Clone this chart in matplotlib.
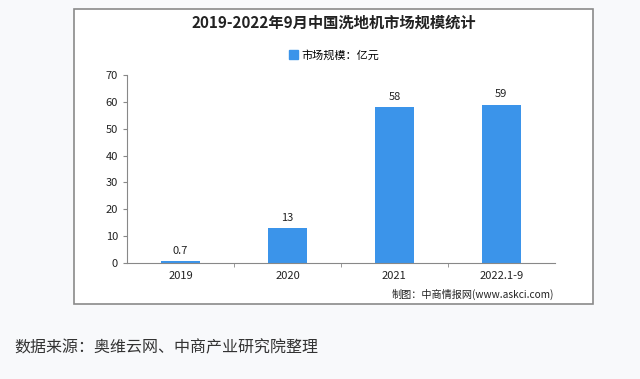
import matplotlib.pyplot as plt
from matplotlib.patches import Rectangle, Patch

plt.rcParams['font.family'] = ['Noto Sans CJK SC', 'DejaVu Sans']

years = ["2019", "2020", "2021", "2022.1-9"]
values = [0.7, 13, 58, 59]
labels = ["0.7", "13", "58", "59"]

fig = plt.figure(figsize=(6.4, 3.79), dpi=100)
fig.patch.set_facecolor('#f8f9fb')

# white chart panel with grey border
panel = Rectangle((0.1156, 0.198), 0.811, 0.778, transform=fig.transFigure,
                  facecolor='white', edgecolor='#8a8a8a', linewidth=1.2, zorder=-5)
fig.add_artist(panel)

ax = fig.add_axes([0.1984, 0.306, 0.6686, 0.496])
ax.set_zorder(2)
ax.set_facecolor('white')
x = range(len(years))
ax.bar(x, values, width=0.37, color='#3b94ea', zorder=2)
for i, v in enumerate(values):
    ax.text(i, v + 2, labels[i], ha='center', va='bottom', fontsize=8, color='#222222')

ax.set_xlim(-0.5, 3.5)
ax.set_ylim(0, 70)
ax.set_yticks(range(0, 71, 10))
ax.set_xticks(list(x))
ax.set_xticklabels(years)
ax.set_xticks([0.5, 1.5, 2.5], minor=True)
ax.tick_params(axis='y', labelsize=8, length=3, color='#888888', labelcolor='#222222')
ax.tick_params(axis='x', which='major', labelsize=8, length=0, pad=6, labelcolor='#222222')
ax.tick_params(axis='x', which='minor', length=3, color='#888888')
for s in ['top', 'right']:
    ax.spines[s].set_visible(False)
ax.spines['left'].set_color('#888888')
ax.spines['bottom'].set_color('#888888')

fig.text(0.521, 0.94, '2019-2022年9月中国洗地机市场规模统计', ha='center', va='center',
         fontsize=11, fontweight='bold', color='#222222')
fig.legend(handles=[Patch(color='#3b94ea')], labels=['市场规模：亿元'], loc='center',
           bbox_to_anchor=(0.522, 0.855), frameon=False, fontsize=8, handlelength=0.8,
           handleheight=0.8, handletextpad=0.3)
fig.text(0.6125, 0.222, '制图：中商情报网(www.askci.com)', ha='left', va='center',
         fontsize=7.3, color='#222222')
fig.text(0.022, 0.082, '数据来源：奥维云网、中商产业研究院整理', ha='left', va='center',
         fontsize=11.5, color='#333333')

fig.savefig('out.png', dpi=100, facecolor=fig.get_facecolor())
